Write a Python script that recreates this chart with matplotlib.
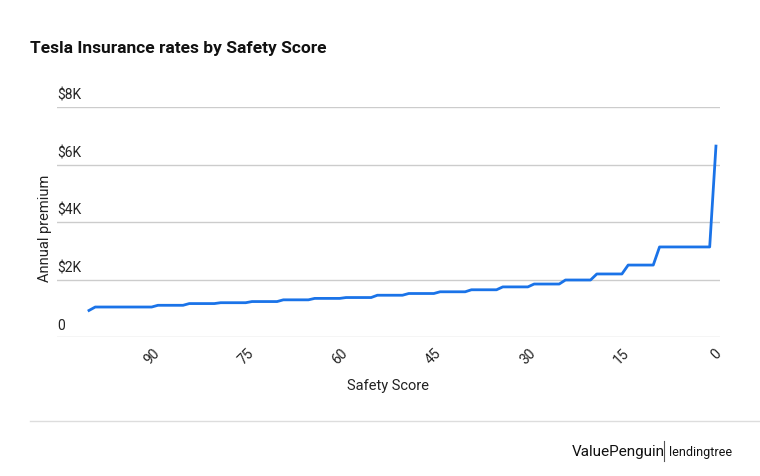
import matplotlib.pyplot as plt
from matplotlib.lines import Line2D

# safety score (reversed axis) and annual premium in dollars
scores = [100, 99, 90, 89, 85, 84, 80, 79, 75, 74, 70, 69, 65, 64, 60, 59, 55, 54, 50,
          49, 45, 44, 40, 39, 35, 34, 30, 29, 25, 24, 20, 19, 15, 14, 10, 9, 1, 0]
premium = [930, 1050, 1050, 1110, 1110, 1170, 1170, 1200, 1200, 1240, 1240, 1300, 1300,
           1350, 1350, 1380, 1380, 1460, 1460, 1520, 1520, 1580, 1580, 1650, 1650, 1750,
           1750, 1850, 1850, 1990, 1990, 2200, 2200, 2510, 2510, 3140, 3140, 6650]
y_ticks = [0, 2000, 4000, 6000, 8000]
y_labels = ['0', '$2K', '$4K', '$6K', '$8K']
x_ticks = [90, 75, 60, 45, 30, 15, 0]

plt.rcParams['font.family'] = ['Roboto', 'DejaVu Sans']

fig = plt.figure(figsize=(7.6, 4.77), dpi=100)
ax = fig.add_axes([0.075, 0.291, 0.872, 0.482])
ax.plot(scores, premium, color='#1a73e8', linewidth=2, solid_joinstyle='round')
ax.set_xlim(105.1, -0.6)
ax.set_ylim(0, 8000)

for s in ax.spines.values():
    s.set_visible(False)
for v in y_ticks:
    ax.axhline(v, color='#cccccc', linewidth=1, zorder=0)
ax.set_yticks([])
for v, lab in zip(y_ticks, y_labels):
    ax.annotate(lab, xy=(0, v), xycoords=('axes fraction', 'data'), xytext=(0, 4),
                textcoords='offset points', ha='left', va='bottom', fontsize=10, color='#222222')

ax.set_xticks(x_ticks)
ax.set_xticklabels([str(t) for t in x_ticks], rotation=45, fontsize=10, color='#222222')
ax.tick_params(axis='x', length=0, pad=6)
ax.set_xlabel('Safety Score', fontsize=10.5, color='#222222', labelpad=8)
ax.set_ylabel('Annual premium', fontsize=10.5, color='#222222')
ax.yaxis.set_label_coords(-0.008, 0.48)

fig.text(30 / 760, 1 - 48 / 477, 'Tesla Insurance rates by Safety Score', fontsize=12.5,
         fontweight='bold', va='center', ha='left', color='#111111')
fig.add_artist(Line2D([30 / 760, 1.0], [1 - 422 / 477] * 2, color='#dddddd', linewidth=1))
fig.text(572 / 760, 1 - 452 / 477, 'ValuePenguin', fontsize=11, va='center', ha='left', color='#111111')
fig.add_artist(Line2D([664 / 760] * 2, [1 - 442 / 477, 1 - 462 / 477], color='#555555', linewidth=0.8))
fig.text(669 / 760, 1 - 453 / 477, 'lendingtree', fontsize=9, va='center', ha='left', color='#111111')

fig.savefig('out.png', dpi=100)
